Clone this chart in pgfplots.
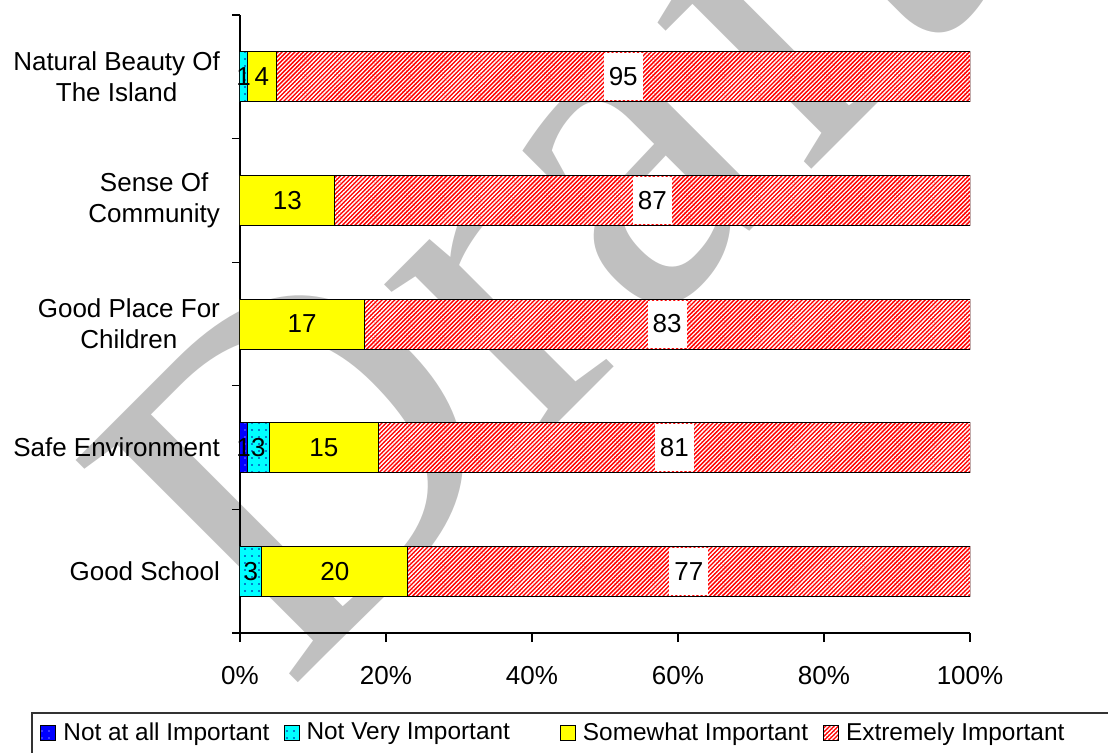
\documentclass[border=0pt]{standalone}
\usepackage{fontspec}
\setmainfont{Liberation Sans}
\newfontfamily\wmfont{Liberation Serif}
\usepackage{pgfplots}
\pgfplotsset{compat=1.18}
\usetikzlibrary{patterns,patterns.meta}
\definecolor{cblue}{RGB}{0,0,255}
\definecolor{ccyan}{RGB}{0,255,255}
\definecolor{cyel}{RGB}{255,255,0}
\definecolor{cred}{RGB}{255,0,0}
\definecolor{wm}{RGB}{192,192,192}
\pgfplotsset{
  sq legend/.style={legend image code/.code={\draw[##1] (0pt,-3.75pt) rectangle (7.5pt,3.75pt);}},
  seg/.style={draw=black, line width=0.5pt, sq legend},
}
\begin{document}
\begin{tikzpicture}[font=\fontsize{13}{15.6}\selectfont]
% watermark
\node[rotate=45, anchor=base west, inner sep=0pt, text=wm, font=\wmfont\fontsize{240}{240}\selectfont] at (24pt,-30pt) {Draft};
\begin{axis}[
  at={(0,0)}, anchor=south west,
  scale only axis, width=365pt, height=309pt,
  xbar stacked, bar width=25pt,
  xmin=0, xmax=100, ymin=-0.5, ymax=4.5,
  axis x line*=bottom, axis y line*=left,
  axis line style={black, line width=0.6pt},
  xtick={0,20,40,60,80,100},
  xticklabels={0\%,20\%,40\%,60\%,80\%,100\%},
  ytick={0,1,2,3,4},
  yticklabels={Good School, Safe Environment, {Good Place For\\Children}, {Sense Of\\Community}, {Natural Beauty Of\\The Island}},
  yticklabel style={align=center, xshift=-2pt},
  xticklabel style={yshift=-8.5pt},
  minor ytick={-0.5,0.5,1.5,2.5,3.5,4.5},
  major y tick style={draw=none},
  tick align=outside,
  major tick length=4.5pt, minor tick length=4pt,
  tick style={black, line width=0.6pt},
  legend columns=4,
  legend style={at={(-0.2822,-0.1618)}, anchor=west, draw=none, fill=none,
    font=\fontsize{12.2}{14.6}\selectfont,
    /tikz/column 1/.style={column sep=1.5pt},
    /tikz/column 3/.style={column sep=1.5pt},
    /tikz/column 5/.style={column sep=1.5pt},
    /tikz/column 7/.style={column sep=1.5pt},
    /tikz/column 2/.style={column sep=5pt},
    /tikz/column 4/.style={column sep=23pt},
    /tikz/column 6/.style={column sep=5.5pt}},
]
\addplot[seg, fill=cblue, postaction={pattern={Dots[distance=3.5pt,radius=0.35pt]}, pattern color=white}]
  coordinates {(0,0) (1,1) (0,2) (0,3) (0,4)};
\addplot[seg, fill=ccyan, postaction={pattern={Dots[distance=3.5pt,radius=0.4pt]}, pattern color=blue!60!black}]
  coordinates {(3,0) (3,1) (0,2) (0,3) (1,4)};
\addplot[seg, fill=cyel]
  coordinates {(20,0) (15,1) (17,2) (13,3) (4,4)};
\addplot[seg, fill=cred, postaction={pattern={Lines[angle=45,distance=1.5pt,line width=0.65pt]}, pattern color=white, draw=black, line width=0.5pt}]
  coordinates {(77,0) (81,1) (83,2) (87,3) (95,4)};
\legend{Not at all Important, Not Very Important, Somewhat Important, Extremely Important}
\end{axis}
\begin{axis}[
  at={(0,0)}, anchor=south west,
  scale only axis, width=365pt, height=309pt,
  xmin=0, xmax=100, ymin=-0.5, ymax=4.5,
  hide axis,
]
\addplot[draw=none, nodes near coords, point meta=explicit symbolic,
  every node near coord/.append style={anchor=center, text=black, inner sep=1pt}]
  coordinates {(0.5,4)[1] (3,4)[4] (6.5,3)[13] (8.5,2)[17] (0.5,1)[1] (2.5,1)[3] (11.5,1)[15] (1.5,0)[3] (13,0)[20]};
\addplot[draw=none, nodes near coords, point meta=explicit symbolic,
  every node near coord/.append style={anchor=center, text=black, fill=white, minimum height=23.5pt, inner xsep=2.5pt}]
  coordinates {(52.5,4)[95] (56.5,3)[87] (58.5,2)[83] (59.5,1)[81] (61.5,0)[77]};
\end{axis}
\draw[black!80, line width=0.8pt] (-104pt,-40pt) rectangle (440pt,-80pt);
\pgfresetboundingbox
\useasboundingbox (-120pt,-59.5pt) rectangle (434pt,316.5pt);
\end{tikzpicture}
\end{document}
